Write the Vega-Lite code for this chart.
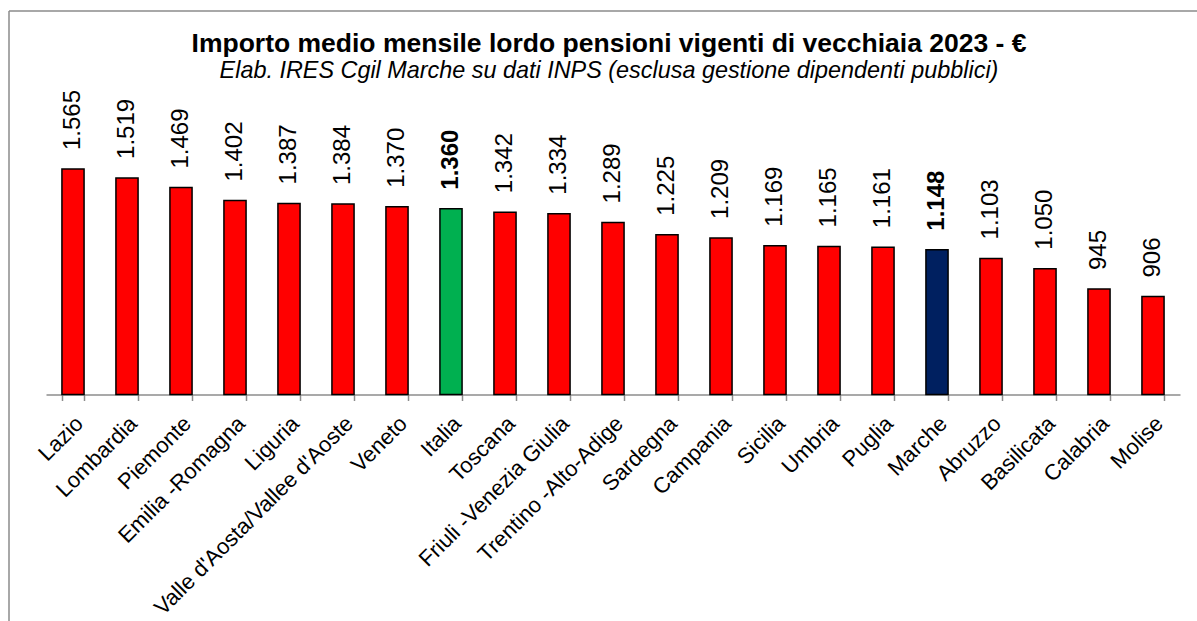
{
  "$schema": "https://vega.github.io/schema/vega-lite/v6.json",
  "width": 1188,
  "height": 610,
  "autosize": {"type": "none"},
  "padding": {"left": 9, "top": 11, "right": 0, "bottom": 0},
  "background": "white",
  "config": {
    "view": {"stroke": "#8c8c8c", "strokeWidth": 1.5, "strokeDash": [1188, 1798, 610, 0]},
    "font": "Liberation Sans",
    "locale": {"number": {"decimal": ",", "thousands": ".", "grouping": [3], "currency": ["", " €"]}}
  },
  "title": {
    "text": "Importo medio mensile lordo pensioni vigenti di vecchiaia 2023 - €",
    "subtitle": "Elab. IRES Cgil Marche su dati INPS (esclusa gestione dipendenti pubblici)",
    "anchor": "middle",
    "frame": "group",
    "offset": -71,
    "dx": 6,
    "font": "Liberation Sans",
    "fontSize": 26.5,
    "fontWeight": "bold",
    "color": "black",
    "subtitleFont": "Liberation Sans",
    "subtitleFontSize": 23.4,
    "subtitleFontStyle": "italic",
    "subtitleColor": "black",
    "subtitlePadding": 2
  },
  "data": {
    "values": [
      {"regione": "Lazio", "importo": 1565, "tipo": "regione"},
      {"regione": "Lombardia", "importo": 1519, "tipo": "regione"},
      {"regione": "Piemonte", "importo": 1469, "tipo": "regione"},
      {"regione": "Emilia -Romagna", "importo": 1402, "tipo": "regione"},
      {"regione": "Liguria", "importo": 1387, "tipo": "regione"},
      {"regione": "Valle d'Aosta/Vallee d'Aoste", "importo": 1384, "tipo": "regione"},
      {"regione": "Veneto", "importo": 1370, "tipo": "regione"},
      {"regione": "Italia", "importo": 1360, "tipo": "Italia"},
      {"regione": "Toscana", "importo": 1342, "tipo": "regione"},
      {"regione": "Friuli -Venezia Giulia", "importo": 1334, "tipo": "regione"},
      {"regione": "Trentino -Alto-Adige", "importo": 1289, "tipo": "regione"},
      {"regione": "Sardegna", "importo": 1225, "tipo": "regione"},
      {"regione": "Campania", "importo": 1209, "tipo": "regione"},
      {"regione": "Sicilia", "importo": 1169, "tipo": "regione"},
      {"regione": "Umbria", "importo": 1165, "tipo": "regione"},
      {"regione": "Puglia", "importo": 1161, "tipo": "regione"},
      {"regione": "Marche", "importo": 1148, "tipo": "Marche"},
      {"regione": "Abruzzo", "importo": 1103, "tipo": "regione"},
      {"regione": "Basilicata", "importo": 1050, "tipo": "regione"},
      {"regione": "Calabria", "importo": 945, "tipo": "regione"},
      {"regione": "Molise", "importo": 906, "tipo": "regione"}
    ]
  },
  "encoding": {
    "x": {
      "field": "regione",
      "type": "nominal",
      "sort": null,
      "scale": {"range": [37, 1171], "paddingInner": 0.59, "paddingOuter": 0.295},
      "axis": {
        "title": null,
        "labelAngle": -45,
        "labelAlign": "right",
        "labelBaseline": "top",
        "labelFont": "Liberation Sans",
        "labelFontSize": 22,
        "labelColor": "black",
        "labelPadding": 12,
        "labelOffset": -1,
        "labelOverlap": false,
        "labelLimit": 0,
        "domainColor": "#8c8c8c",
        "domainWidth": 1.5,
        "tickColor": "#8c8c8c",
        "tickWidth": 1.5,
        "tickSize": 6,
        "tickBand": "extent",
        "offset": -226.5,
        "grid": false
      }
    },
    "y": {
      "field": "importo",
      "type": "quantitative",
      "scale": {"domain": [400, 2000], "range": [383.5, 73.8], "nice": false, "zero": false},
      "axis": null
    }
  },
  "layer": [
    {
      "mark": {"type": "bar", "stroke": "black", "strokeWidth": 1.5},
      "encoding": {
        "y2": {"datum": 400},
        "color": {
          "field": "tipo",
          "type": "nominal",
          "scale": {"domain": ["regione", "Italia", "Marche"], "range": ["#FF0000", "#00B050", "#002060"]},
          "legend": null
        }
      }
    },
    {
      "transform": [{"filter": "datum.tipo === 'regione'"}],
      "mark": {"type": "text", "angle": 270, "align": "left", "baseline": "middle", "dx": 19, "fontSize": 24, "font": "Liberation Sans", "fontWeight": "normal", "color": "black"},
      "encoding": {
        "text": {"field": "importo", "type": "quantitative", "format": ",.0f"}
      }
    },
    {
      "transform": [{"filter": "datum.tipo !== 'regione'"}],
      "mark": {"type": "text", "angle": 270, "align": "left", "baseline": "middle", "dx": 19, "fontSize": 24, "font": "Liberation Sans", "fontWeight": "bold", "color": "black"},
      "encoding": {
        "text": {"field": "importo", "type": "quantitative", "format": ",.0f"}
      }
    }
  ]
}
